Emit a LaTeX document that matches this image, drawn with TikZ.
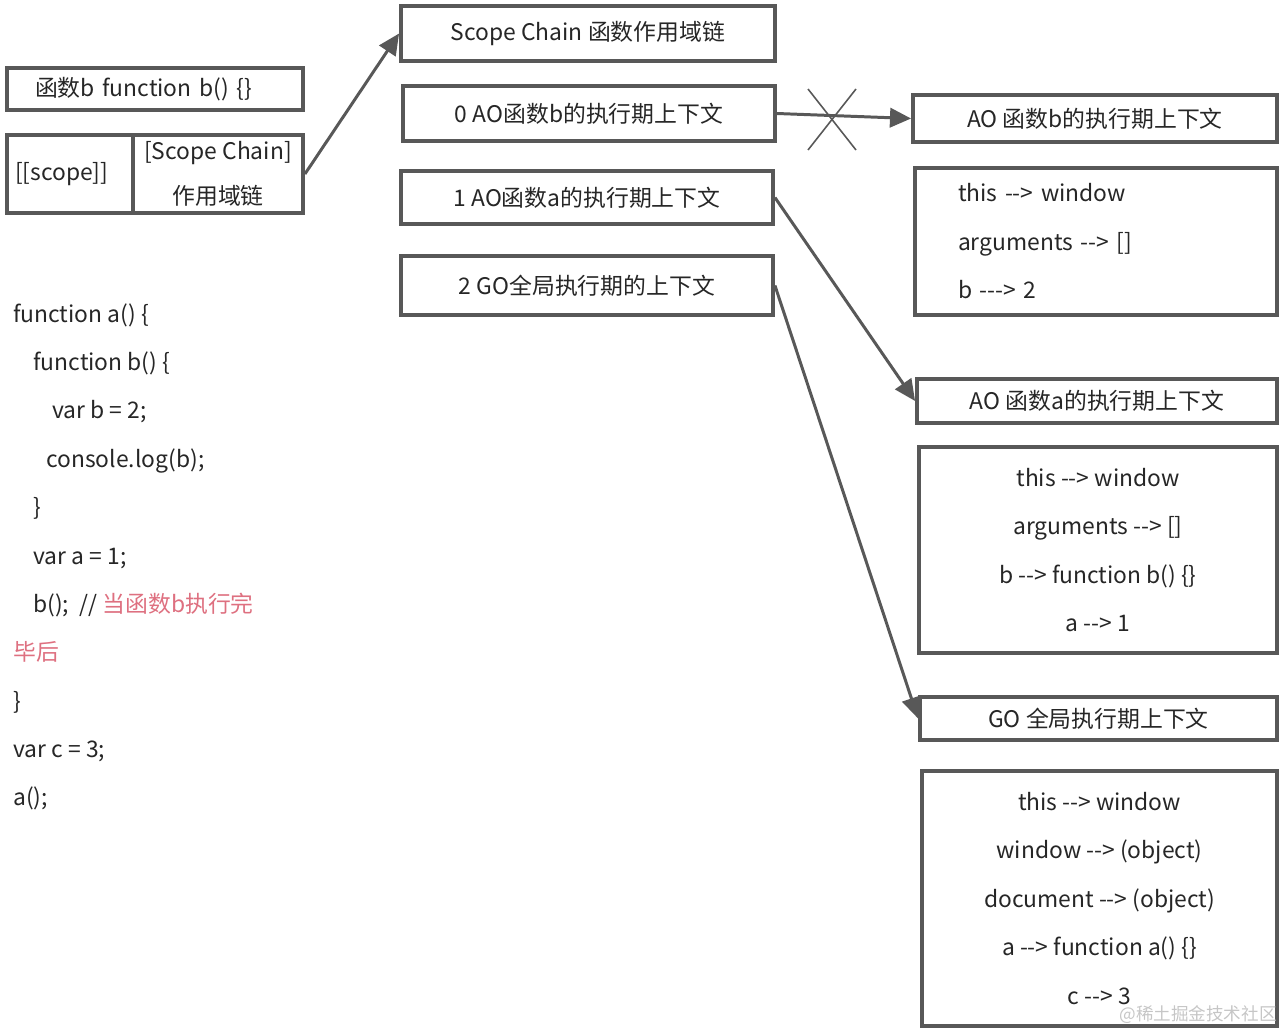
\documentclass[tikz,border=0pt]{standalone}
\usepackage{fontspec}
\setmainfont[Ligatures=TeXOff]{Noto Sans CJK SC}
\usetikzlibrary{arrows.meta}
\definecolor{edgegray}{RGB}{88,88,88}
\definecolor{inkgray}{RGB}{38,38,38}
\definecolor{notered}{RGB}{222,112,128}

\begin{document}
\begin{tikzpicture}[font=\fontsize{13}{16}\selectfont, text=inkgray,
  box/.style={draw=edgegray, line width=2.2pt, inner sep=0pt},
  link/.style={draw=edgegray, line width=1.7pt, -{Triangle[length=12pt,width=11pt]}},
  vars/.style={align=center, font=\fontsize{13}{27.6}\selectfont},
  code/.style={anchor=base west, inner sep=0pt}]
  \useasboundingbox (0,0) rectangle (25.68,-20.64);
  \node[box, minimum width=7.48cm, minimum height=1.10cm] (sc) at (11.76,-0.67) {Scope Chain 函数作用域链};
  \node[box, minimum width=7.44cm, minimum height=1.10cm] (ao0) at (11.78,-2.27) {0 AO函数b的执行期上下文};
  \node[box, minimum width=7.44cm, minimum height=1.06cm] (ao1) at (11.74,-3.95) {1 AO函数a的执行期上下文};
  \node[box, minimum width=7.44cm, minimum height=1.18cm] (go2) at (11.74,-5.71) {2 GO全局执行期的上下文};
  \node[box, minimum width=5.92cm, minimum height=0.84cm, text width=4.80cm, inner xsep=0.56cm, align=left] (fnb) at (3.10,-1.78) {函数b function b() \{\}};
  \node[box, minimum width=2.52cm, minimum height=1.56cm, text width=2.20cm, inner xsep=0.16cm, align=left] (scope) at (1.40,-3.48) {\raisebox{-3pt}{[[scope]]}};
  \node[box, minimum width=3.40cm, minimum height=1.56cm, align=center, font=\fontsize{13}{25.5}\selectfont] (chain) at (4.36,-3.48) {[Scope Chain]\\作用域链};
  \draw[link] (chain.east) -- (sc.west);
  \node[box, minimum width=7.28cm, minimum height=0.94cm] (aob) at (21.90,-2.37) {AO 函数b的执行期上下文};
  \node[box, vars, align=left, minimum width=7.24cm, minimum height=2.94cm, text width=5.52cm, inner xsep=0.86cm] (aobvars) at (21.92,-4.83) {this --> window\\arguments --> []\\b ---> 2};
  \node[box, minimum width=7.20cm, minimum height=0.88cm] (aoa) at (21.94,-8.02) {AO 函数a的执行期上下文};
  \node[box, vars, minimum width=7.16cm, minimum height=4.12cm] (aoavars) at (21.96,-11.00) {this --> window\\arguments --> []\\b --> function b() \{\}\\a --> 1};
  \node[box, minimum width=7.14cm, minimum height=0.86cm] (go) at (21.97,-14.37) {GO 全局执行期上下文};
  \node[box, vars, minimum width=7.10cm, minimum height=5.10cm] (govars) at (21.99,-17.97) {this --> window\\window --> (object)\\document --> (object)\\a --> function a() \{\}\\c --> 3};
  \draw[link] (ao0.east) -- (aob.west);
  \draw[link] (ao1.east) -- (aoa.west);
  \draw[link] (go2.east) -- (go.west);
  \coordinate (cut) at (16.64,-2.40);
  \draw[edgegray, line width=0.9pt] (cut) ++(-0.48,0.62) -- ++(0.96,-1.22);
  \draw[edgegray, line width=0.9pt] (cut) ++(0.48,0.62) -- ++(-0.96,-1.22);
  \node[code] (l1) at (0.26,-6.44) {function a() \{};
  \node[code] (l2) at (0.66,-7.40) {function b() \{};
  \node[code] (l3) at (1.04,-8.36) {var b = 2;};
  \node[code] (l4) at (0.92,-9.34) {console.log(b);};
  \node[code] (l5) at (0.66,-10.30) {\}};
  \node[code] (l6) at (0.66,-11.28) {var a = 1;};
  \node[code] (l7) at (0.66,-12.24) {b();~~// {\color{notered}当函数b执行完}};
  \node[code] (l8) at (0.26,-13.20) {{\color{notered}毕后}};
  \node[code] (l9) at (0.26,-14.18) {\}};
  \node[code] (l10) at (0.26,-15.14) {var c = 3;};
  \node[code] (l11) at (0.26,-16.10) {a();};
  \node[text=gray!45, font=\fontsize{10}{12}\selectfont] (mark) at (23.96,-20.30) {@稀土掘金技术社区};
\end{tikzpicture}
\end{document}
